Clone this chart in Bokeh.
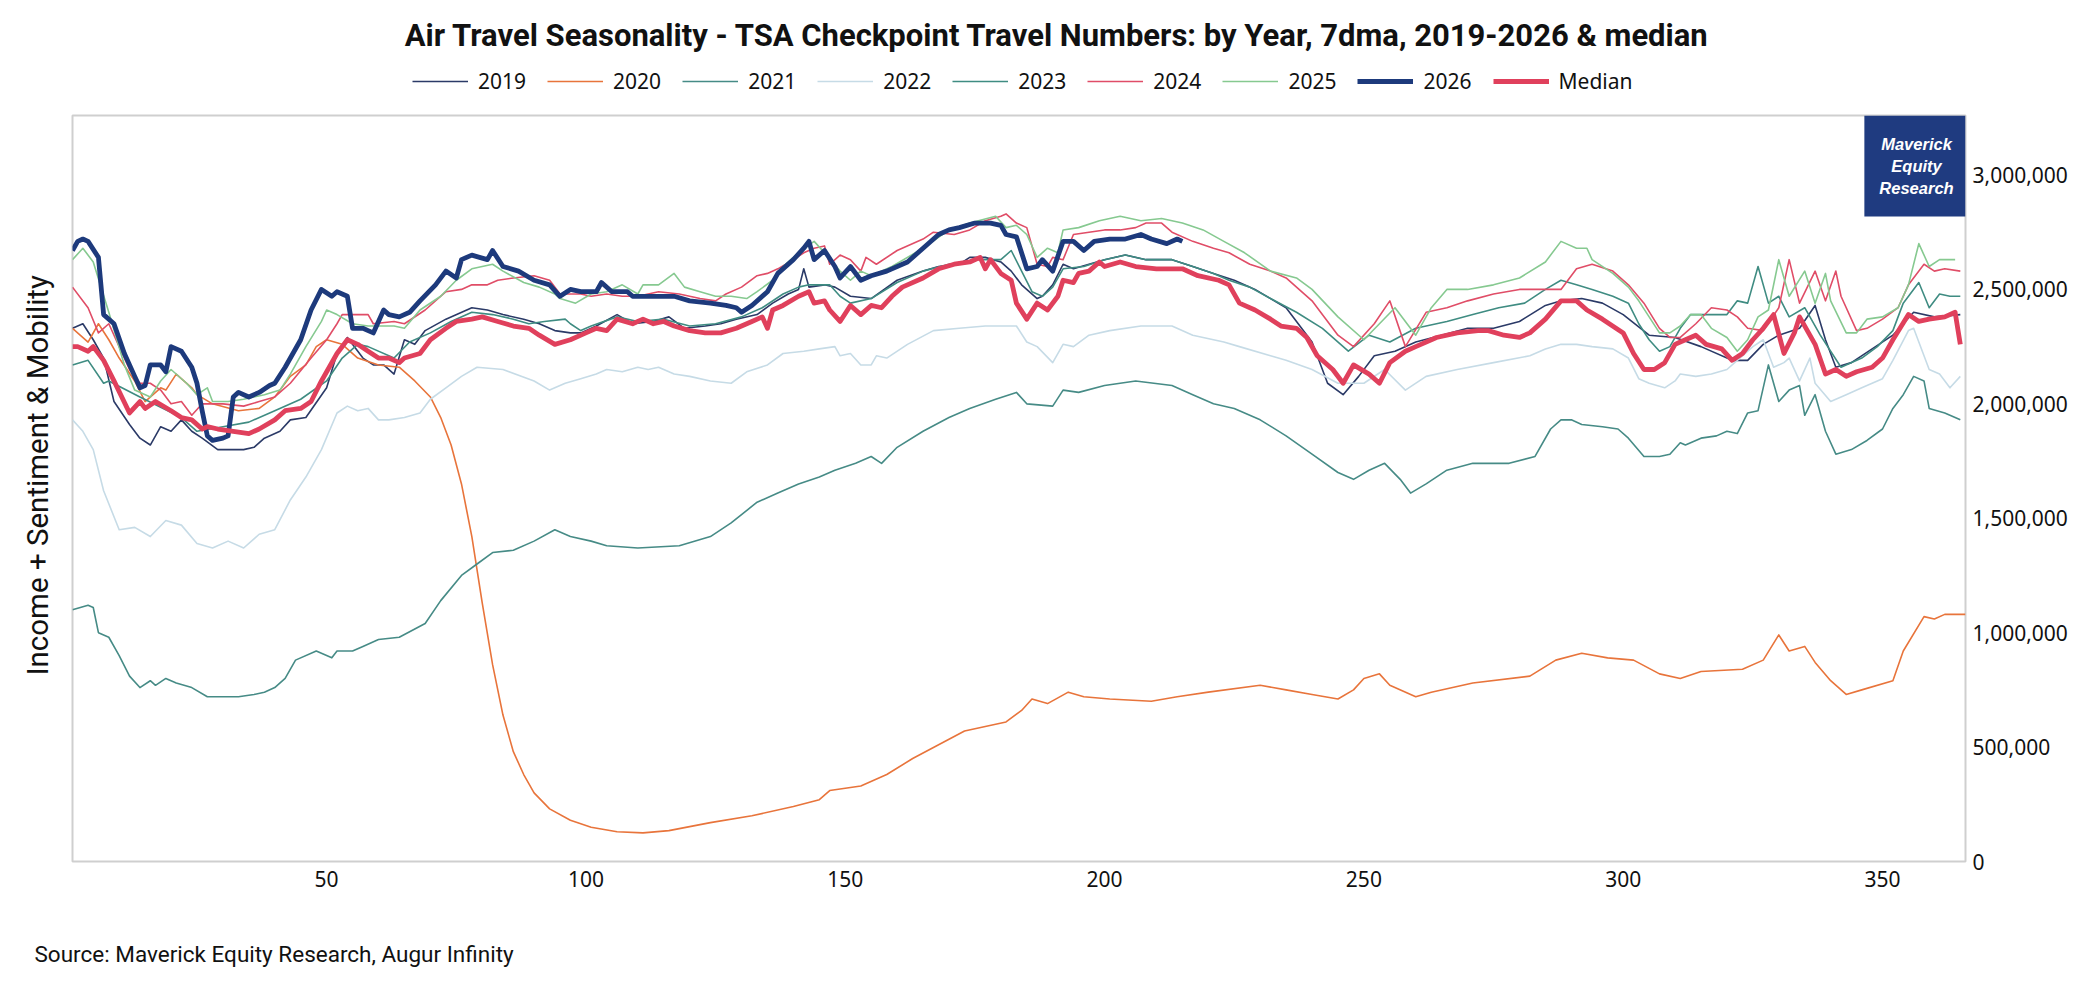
from bokeh.plotting import figure
from bokeh.layouts import column
from bokeh.models import (ColumnDataSource, Legend, LegendItem, Label, BoxAnnotation,
                          FixedTicker, NumeralTickFormatter, Range1d, Title)
from bokeh.embed import file_html
from bokeh.resources import INLINE

TITLE = "Air Travel Seasonality - TSA Checkpoint Travel Numbers: by Year, 7dma, 2019-2026 & median"
Y_TITLE = "Income + Sentiment & Mobility"
SOURCE = "Source: Maverick Equity Research, Augur Infinity"
LOGO_LINES = ["Maverick", "Equity", "Research"]
X_TICKS = [50, 100, 150, 200, 250, 300, 350]
Y_TICKS = [0, 500000, 1000000, 1500000, 2000000, 2500000, 3000000]

# day of year / travellers in millions (7-day moving average)
days_2019 = [1,3,5,7,9,12,14,16,18,20, 22,24,26,29,32,34,36,38,41,43, 46,50,52,54,57,59,61,63,65,67,
             69,73,78,81,84,88,91,94,97,99, 102,106,109,113,116,119,123,126,129,133,
             136,139,141,142,143,146,148,151,155,160, 165,168,172,174,177,180,182,184,187,188,
             190,192,194,197,200,204,208,213,217,221, 225,229,232,235,240,243,246,249,252,256,
             260,265,270,275,280,285,288,292,296,300, 305,310,315,321,324,327,330,334,337,339,
             341,344,348,352,356,360,365]
mil_2019 = [2.33,2.35,2.28,2.20,2.01,1.91,1.85,1.82,1.90,1.88, 1.93,1.88,1.85,1.80,1.80,1.80,1.81,1.85,1.88,1.93,
            1.94,2.07,2.22,2.29,2.20,2.17,2.17,2.13,2.28,2.26, 2.32,2.37,2.42,2.41,2.39,2.37,2.35,2.32,2.31,2.31,
            2.34,2.39,2.35,2.36,2.38,2.33,2.34,2.35,2.37,2.39, 2.44,2.48,2.50,2.59,2.51,2.52,2.51,2.47,2.46,2.54,
            2.58,2.60,2.61,2.64,2.64,2.62,2.58,2.52,2.46,2.47, 2.52,2.61,2.59,2.61,2.63,2.65,2.63,2.63,2.60,2.57,
            2.54,2.50,2.46,2.42,2.27,2.09,2.04,2.12,2.21,2.23, 2.27,2.30,2.33,2.33,2.36,2.43,2.45,2.46,2.44,2.39,
            2.30,2.29,2.25,2.19,2.19,2.26,2.30,2.33,2.43,2.28, 2.16,2.18,2.24,2.30,2.40,2.38,2.39]

days_2020 = [1,4,6,8,10,13,15,18,19,21, 24,25,28,33,37,40,43,46,48,50, 53,56,60,64,67,70,72,74,76,78,
             80,82,84,86,88,90,93,97,101,106, 111,116,124,132,140,145,147,153,158,163,
             168,173,181,184,186,189,193,196,201,209, 214,220,230,235,240,245,248,250,253,255,
             260,263,271,282,287,292,297,302,307,311, 315,323,327,330,332,335,337,340,343,346,
             352,354,358,360,362,366]
mil_2020 = [2.33,2.27,2.35,2.28,2.20,2.10,2.01,2.07,2.06,2.13, 2.07,2.04,2.00,1.97,1.98,2.03,2.12,2.17,2.25,2.28,
            2.26,2.20,2.17,2.16,2.10,2.03,1.94,1.82,1.65,1.42, 1.13,0.86,0.64,0.48,0.38,0.30,0.23,0.18,0.15,0.13,
            0.125,0.135,0.17,0.20,0.24,0.27,0.31,0.33,0.38,0.45, 0.51,0.57,0.61,0.66,0.71,0.69,0.74,0.72,0.71,0.70,
            0.72,0.74,0.77,0.75,0.73,0.71,0.75,0.80,0.82,0.77, 0.72,0.74,0.78,0.81,0.88,0.91,0.89,0.88,0.82,0.80,
            0.83,0.84,0.88,0.99,0.92,0.94,0.87,0.79,0.73,0.75, 0.79,0.92,1.07,1.06,1.08,1.08]

days_2021 = [1,4,5,6,8,10,12,14,16,17, 19,21,24,27,30,32,33,36,38,40, 42,44,48,51,52,55,57,60,64,69,
             72,76,79,82,86,90,94,97,101,104, 110,118,124,128,133,137,141,145,148,152,
             155,157,160,165,170,174,179,183,185,190, 192,195,200,206,213,217,221,225,230,235,
             240,245,248,251,254,257,259,262,266,271, 278,283,286,288,290,292,296,299,301,304,
             307,309,311,312,315,318,320,322,324,326, 328,330,332,334,335,337,339,341,344,347,
             350,352,354,356,358,359,362,365]
mil_2021 = [1.10,1.12,1.11,1.00,0.98,0.90,0.81,0.76,0.79,0.77, 0.80,0.78,0.76,0.72,0.72,0.72,0.72,0.73,0.74,0.76,
            0.80,0.88,0.92,0.89,0.92,0.92,0.94,0.97,0.98,1.04, 1.14,1.25,1.30,1.35,1.36,1.40,1.45,1.42,1.40,1.38,
            1.37,1.38,1.42,1.48,1.57,1.61,1.65,1.68,1.71,1.74, 1.77,1.74,1.81,1.88,1.94,1.98,2.02,2.05,2.00,1.99,
            2.06,2.05,2.08,2.10,2.08,2.04,2.00,1.98,1.93,1.86, 1.78,1.70,1.67,1.71,1.74,1.67,1.61,1.65,1.71,1.74,
            1.74,1.77,1.89,1.93,1.93,1.91,1.90,1.89,1.85,1.77, 1.77,1.78,1.83,1.82,1.85,1.86,1.88,1.87,1.96,1.97,
            2.17,2.01,2.06,2.08,1.95,2.04,1.88,1.78,1.80,1.84, 1.89,1.98,2.04,2.12,2.10,1.98,1.96,1.93]

days_2022 = [1,3,5,7,10,13,16,19,22,25, 28,31,34,37,40,43,46,49,52,54, 56,58,60,62,65,68,70,73,76,79,
             84,90,93,96,99,102,104,107,110,112, 114,117,120,124,128,131,135,138,142,145,
             148,149,151,153,155,156,158,162,167,172, 177,183,185,187,190,192,194,197,201,207,
             213,217,223,226,232,235,240,245,250,254, 258,262,268,275,282,285,288,291,294,298,
             301,303,305,308,310,311,314,317,320,322, 325,327,329,331,332,334,336,337,340,343,
             346,350,352,355,356,359,361,363,365]
mil_2022 = [1.93,1.88,1.80,1.62,1.45,1.46,1.42,1.49,1.47,1.39, 1.37,1.40,1.37,1.43,1.45,1.58,1.68,1.80,1.96,1.99,
            1.97,1.98,1.93,1.93,1.94,1.96,2.02,2.07,2.12,2.16, 2.15,2.10,2.06,2.09,2.11,2.13,2.15,2.14,2.16,2.15,
            2.16,2.13,2.12,2.10,2.09,2.14,2.17,2.22,2.23,2.24, 2.25,2.21,2.22,2.17,2.17,2.21,2.20,2.26,2.32,2.33,
            2.34,2.34,2.27,2.25,2.18,2.26,2.25,2.30,2.32,2.34, 2.34,2.30,2.27,2.25,2.21,2.19,2.15,2.09,2.09,2.15,
            2.06,2.12,2.15,2.18,2.21,2.24,2.26,2.26,2.25,2.24, 2.20,2.11,2.09,2.07,2.10,2.13,2.12,2.13,2.15,2.19,
            2.25,2.28,2.16,2.18,2.20,2.10,2.20,2.09,2.01,2.04, 2.07,2.11,2.19,2.32,2.33,2.15,2.13,2.07,2.12]

days_2023 = [1,4,7,8,14,22,25,30,35,40, 45,50,53,56,58,63,66,70,74,78, 82,86,89,92,96,97,99,101,106,110,
             115,120,125,130,134,138,141,143,147,149, 151,155,160,165,170,175,180,182,184,186,
             188,190,192,196,200,204,208,213,217,221, 224,228,232,237,242,247,251,255,260,266,
             271,276,281,285,288,291,294,298,301,303, 305,307,309,311,313,317,320,322,324,326,
             328,330,332,335,338,342,346,349,352,354, 357,359,361,363,365]
mil_2023 = [2.17,2.19,2.09,2.10,2.03,1.94,1.88,1.90,1.92,1.97, 2.02,2.10,2.20,2.26,2.25,2.20,2.27,2.31,2.36,2.40,
            2.39,2.37,2.35,2.36,2.37,2.35,2.32,2.34,2.38,2.36, 2.37,2.34,2.35,2.38,2.42,2.48,2.51,2.52,2.52,2.47,
            2.44,2.46,2.53,2.58,2.61,2.63,2.63,2.67,2.58,2.49, 2.47,2.51,2.59,2.60,2.63,2.65,2.63,2.63,2.60,2.57,
            2.54,2.51,2.46,2.40,2.33,2.23,2.30,2.27,2.33,2.36, 2.39,2.42,2.44,2.50,2.54,2.52,2.50,2.47,2.44,2.35,
            2.28,2.23,2.25,2.33,2.39,2.39,2.39,2.45,2.44,2.60, 2.44,2.47,2.38,2.42,2.30,2.16,2.20,2.25,2.32,2.44,
            2.53,2.42,2.48,2.47,2.47]

days_2024 = [1,4,6,8,10,12,14,16,18,20, 22,24,26,30,34,37,40,43,47,50, 52,53,55,58,59,63,65,69,73,76,
             78,81,83,86,90,93,95,99,101,104, 107,110,114,118,122,125,127,130,133,135,
             137,140,142,144,146,147,149,151,153,154, 156,160,165,167,171,174,177,180,181,183,
             185,187,189,190,192,194,197,200,203,206, 208,211,213,217,221,224,228,232,235,240,
             245,248,252,255,258,262,266,270,275,280, 285,288,291,294,298,301,304,307,309,311,
             314,317,320,322,324,327,330,332,334,337, 339,341,342,345,347,350,353,355,358,360,
             362,365]
mil_2024 = [2.51,2.42,2.31,2.35,2.25,2.15,2.09,2.09,2.06,2.00, 2.01,1.95,2.00,2.00,1.99,2.01,2.03,2.09,2.20,2.28,
            2.35,2.39,2.39,2.39,2.35,2.36,2.35,2.41,2.49,2.50, 2.52,2.52,2.54,2.55,2.56,2.54,2.48,2.48,2.47,2.48,
            2.47,2.47,2.49,2.48,2.46,2.45,2.48,2.51,2.56,2.57, 2.59,2.63,2.66,2.68,2.69,2.61,2.65,2.63,2.58,2.64,
            2.61,2.67,2.72,2.75,2.74,2.76,2.80,2.82,2.83,2.79, 2.77,2.61,2.60,2.64,2.63,2.74,2.75,2.76,2.76,2.77,
            2.79,2.79,2.75,2.71,2.68,2.66,2.61,2.58,2.55,2.45, 2.30,2.25,2.35,2.45,2.25,2.40,2.42,2.45,2.48,2.50,
            2.50,2.50,2.59,2.61,2.58,2.52,2.44,2.33,2.29,2.29, 2.35,2.42,2.41,2.38,2.33,2.32,2.42,2.63,2.44,2.58,
            2.45,2.58,2.47,2.32,2.33,2.37,2.42,2.52,2.61,2.58, 2.59,2.58]

days_2025 = [1,3,5,8,11,13,16,18,20,23, 25,27,28,31,34,38,41,43,46,49, 50,52,55,58,61,63,65,68,72,75,
             78,82,84,88,91,94,95,98,101,104, 107,110,111,114,117,119,122,125,128,131,
             133,136,138,141,144,146,149,151,153,155, 159,165,170,174,179,181,183,185,187,189,
             191,192,195,199,203,207,211,215,219,223, 227,232,237,240,245,250,253,256,260,263,
             266,270,275,280,285,288,291,293,294,298, 301,303,307,309,311,313,315,317,320,322,
             324,326,328,330,332,335,337,339,340,343, 345,347,350,353,355,357,359,361,364]
mil_2025 = [2.63,2.68,2.62,2.40,2.17,2.06,2.03,2.10,2.15,2.09, 2.04,2.07,2.01,2.01,2.02,2.04,2.06,2.13,2.25,2.36,
            2.41,2.39,2.35,2.34,2.34,2.34,2.33,2.41,2.47,2.54, 2.59,2.61,2.58,2.53,2.51,2.48,2.46,2.44,2.48,2.49,
            2.52,2.48,2.52,2.52,2.57,2.51,2.49,2.47,2.47,2.46, 2.49,2.54,2.60,2.66,2.71,2.66,2.58,2.54,2.58,2.56,
            2.60,2.68,2.76,2.79,2.82,2.77,2.78,2.74,2.64,2.68, 2.66,2.76,2.77,2.80,2.82,2.80,2.81,2.79,2.76,2.71,
            2.66,2.58,2.55,2.50,2.38,2.28,2.35,2.42,2.30,2.42, 2.50,2.50,2.52,2.55,2.62,2.71,2.68,2.68,2.63,2.57,
            2.51,2.45,2.31,2.31,2.34,2.39,2.39,2.33,2.29,2.23, 2.28,2.38,2.41,2.63,2.47,2.58,2.44,2.57,2.45,2.31,
            2.31,2.37,2.38,2.42,2.52,2.70,2.60,2.63,2.63]

days_2026 = [1,2,3,4,6,7,9,11,13,14, 15,16,18,19,20,22,24,25,26,27, 28,30,31,32,33,35,37,39,40,42,
             45,47,49,51,52,54,55,57,58,59, 61,62,64,66,68,71,73,75,76,78,
             81,82,84,87,90,93,95,97,99,102, 103,105,108,109,113,117,120,124,127,129,
             130,132,135,137,140,142,143,144,146,148, 149,151,153,155,158,162,165,168,170,172,
             175,178,180,181,183,185,187,188,190,192, 194,196,198,201,204,207,209,212,214,215]
mil_2026 = [2.67,2.71,2.72,2.71,2.64,2.39,2.35,2.22,2.12,2.07, 2.08,2.17,2.17,2.14,2.25,2.23,2.16,2.09,1.97,1.86,
            1.84,1.85,1.86,2.03,2.05,2.03,2.05,2.08,2.09,2.16, 2.28,2.41,2.50,2.47,2.49,2.47,2.33,2.33,2.32,2.31,
            2.41,2.39,2.38,2.40,2.45,2.52,2.58,2.55,2.63,2.65, 2.63,2.67,2.60,2.58,2.54,2.52,2.47,2.50,2.49,2.49,
            2.53,2.49,2.49,2.47,2.47,2.47,2.45,2.44,2.43,2.42, 2.40,2.43,2.49,2.57,2.63,2.68,2.71,2.63,2.67,2.60,
            2.55,2.60,2.54,2.56,2.58,2.62,2.68,2.74,2.76,2.77, 2.79,2.79,2.78,2.74,2.73,2.59,2.60,2.63,2.58,2.71,
            2.71,2.67,2.71,2.72,2.72,2.74,2.72,2.70,2.72,2.71]

days_med = [1,2,4,5,7,9,12,14,15,17, 20,22,24,26,27,29,32,35,37,40, 42,45,47,49,52,54,56,58,60,62,
            64,65,68,70,73,75,78,80,83,86, 89,91,94,97,100,102,104,106,109,111,
            113,115,117,120,123,126,129,132,134,135, 136,138,141,143,144,146,147,149,151,153,
            155,157,159,161,165,168,171,174,176,177, 178,180,182,183,185,187,189,191,192,194,
            195,197,199,200,203,206,210,213,215,218, 222,224,226,229,232,234,237,239,241,244,
            246,248,251,253,255,258,260,264,268,272, 274,277,280,282,285,288,291,293,296,300,
            302,304,306,308,310,311,314,316,319,321, 323,325,327,329,331,333,334,337,339,341,
            343,345,348,350,352,355,357,359,362,364, 365]
mil_med = [2.25,2.25,2.23,2.25,2.19,2.10,1.96,2.01,1.98,2.01, 1.97,1.94,1.93,1.89,1.90,1.89,1.88,1.87,1.89,1.93,
           1.97,1.98,2.01,2.10,2.22,2.28,2.26,2.23,2.20,2.20, 2.18,2.20,2.22,2.28,2.33,2.36,2.37,2.38,2.36,2.34,
           2.33,2.30,2.26,2.28,2.31,2.33,2.32,2.37,2.35,2.37, 2.35,2.36,2.34,2.32,2.31,2.31,2.33,2.36,2.38,2.33,
           2.41,2.43,2.47,2.49,2.44,2.45,2.41,2.36,2.43,2.39, 2.43,2.42,2.47,2.51,2.55,2.59,2.61,2.62,2.64,2.59,
           2.63,2.57,2.54,2.44,2.37,2.44,2.41,2.47,2.54,2.53, 2.57,2.58,2.62,2.60,2.62,2.60,2.59,2.59,2.59,2.56,
           2.54,2.52,2.44,2.41,2.37,2.34,2.33,2.29,2.21,2.15, 2.09,2.17,2.13,2.09,2.18,2.23,2.25,2.29,2.31,2.32,
           2.32,2.30,2.29,2.31,2.37,2.45,2.45,2.41,2.37,2.31, 2.22,2.15,2.15,2.18,2.26,2.27,2.30,2.26,2.24,2.19,
           2.22,2.28,2.33,2.39,2.22,2.31,2.38,2.26,2.13,2.15, 2.12,2.14,2.16,2.20,2.28,2.39,2.36,2.37,2.38,2.40,
           2.26]

SERIES = [
    ("2019", days_2019, mil_2019, "#2b3a67", 1.6),
    ("2020", days_2020, mil_2020, "#e8743b", 1.6),
    ("2021", days_2021, mil_2021, "#468b86", 1.6),
    ("2022", days_2022, mil_2022, "#c6dbe6", 1.6),
    ("2023", days_2023, mil_2023, "#3f8c82", 1.6),
    ("2024", days_2024, mil_2024, "#e04d67", 1.6),
    ("2025", days_2025, mil_2025, "#86c990", 1.6),
    ("2026", days_2026, mil_2026, "#1d3a7c", 4.8),
    ("Median", days_med, mil_med, "#e0405c", 4.8),
]

W = 2097
HEAD_H = 114
MAIN_H = 787          # 1 + 746 frame + 40 for the day axis
FOOT_H = 990 - HEAD_H - MAIN_H
FRAME_L, FRAME_R = 70, 1965   # plot frame edges in page pixels (shared by all figures)


def blank(height):
    f = figure(width=W, height=height, x_range=Range1d(FRAME_L, FRAME_R), y_range=Range1d(0, height),
               output_backend="svg", toolbar_location=None, x_axis_type=None, y_axis_type=None,
               min_border=0)
    f.outline_line_color = None
    f.xgrid.visible = False
    f.ygrid.visible = False
    f.background_fill_color = "white"
    f.border_fill_color = "white"
    return f


# ---------- header: title + legend ----------
head = blank(HEAD_H)
head.add_layout(Label(x=1056, y=HEAD_H - 35, text=TITLE, text_align="center", text_baseline="middle",
                      text_font="Roboto", text_font_style="bold", text_font_size="31px",
                      text_color="#111111"))

# ---------- main chart ----------
p = figure(width=W, height=MAIN_H, x_range=Range1d(1, 366), y_range=Range1d(0, 3260000),
           output_backend="svg", toolbar_location=None, y_axis_location="right",
           min_border_left=FRAME_L, min_border_right=W - FRAME_R, min_border_top=1, min_border_bottom=40)
p.background_fill_color = "white"
p.border_fill_color = "white"
p.outline_line_color = "#cfcfcf"
p.outline_line_width = 2
p.xgrid.visible = False
p.ygrid.visible = False

p.xaxis.ticker = FixedTicker(ticks=X_TICKS)
p.yaxis.ticker = FixedTicker(ticks=Y_TICKS)
p.yaxis.formatter = NumeralTickFormatter(format="0,0")
for ax in (p.xaxis[0], p.yaxis[0]):
    ax.axis_line_color = None
    ax.major_tick_line_color = None
    ax.minor_tick_line_color = None
    ax.major_tick_out = 0
    ax.major_label_text_font = "Noto Sans"
    ax.major_label_text_font_size = "21px"
    ax.major_label_text_color = "#111111"
p.yaxis.major_label_standoff = 7
p.xaxis.major_label_standoff = 9

items = []
for label, d, v, color, w in SERIES:
    ys = [val * 1e6 for val in v]
    src = ColumnDataSource(dict(x=d, y=ys))
    p.line("x", "y", source=src, line_color=color, line_width=w, line_join="round")
    # legend swatch in the header: same series, far outside the header's visible range
    sw = head.line(x=d, y=ys, line_color=color, line_width=w)
    items.append(LegendItem(label=label, renderers=[sw]))

legend = Legend(items=items, orientation="horizontal", location=(410 - FRAME_L, HEAD_H - 95),
                glyph_width=56, glyph_height=26, label_height=26, label_standoff=10, spacing=21,
                padding=0, margin=0, border_line_color=None, background_fill_alpha=0,
                label_text_font="Noto Sans", label_text_font_size="21px",
                label_text_color="#111111")
head.add_layout(legend, "center")

p.add_layout(Title(text=Y_TITLE, align="left", offset=186, standoff=36,
                   text_font="Roboto", text_font_style="normal",
                   text_font_size="29.5px", text_color="#111111"), "left")

p.add_layout(BoxAnnotation(left=346.5, right=366, bottom=2819000, top=3260000,
                           fill_color="#1f3b80", fill_alpha=1.0, line_color=None))
for i, t in enumerate(LOGO_LINES):
    p.add_layout(Label(x=1844, y=718 - 22 * i, x_units="screen", y_units="screen", text=t,
                       text_align="center", text_baseline="middle",
                       text_font="Liberation Sans", text_font_style="bold italic",
                       text_font_size="16.5px", text_color="white"))

# ---------- footer: source note ----------
foot = blank(FOOT_H)
foot.add_layout(Title(text=SOURCE, align="left", offset=-38, standoff=48,
                      text_font="Roboto", text_font_style="normal",
                      text_font_size="22.5px", text_color="#111111"), "below")

layout = column(head, p, foot, spacing=0)
open("out.html", "w").write(file_html(layout, INLINE))
